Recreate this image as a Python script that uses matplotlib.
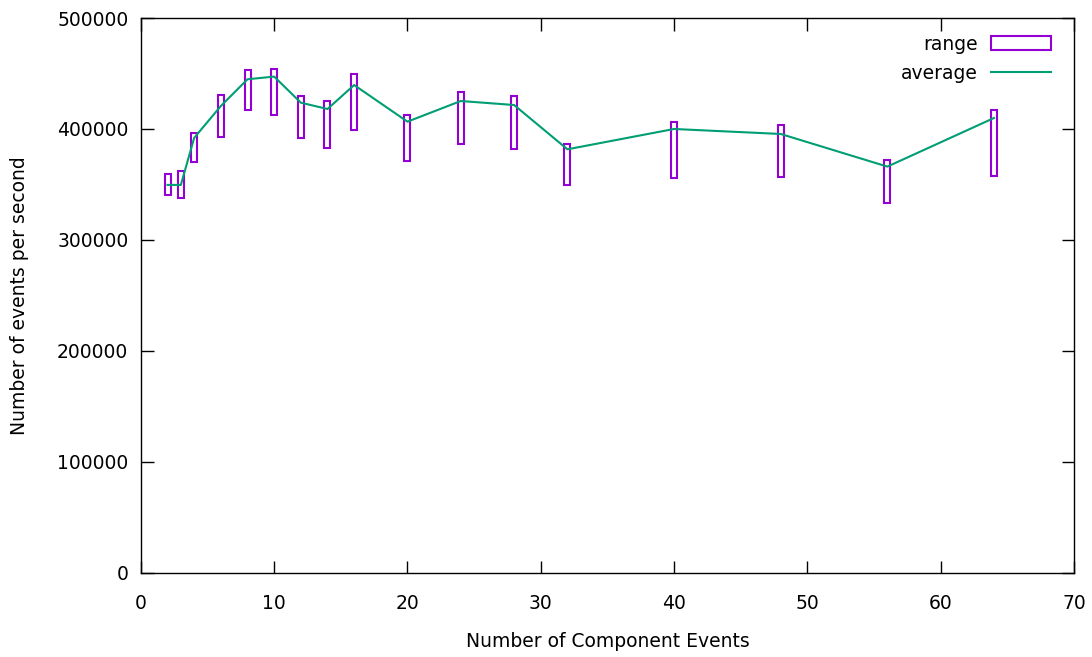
import matplotlib
matplotlib.use('Agg')
import matplotlib.pyplot as plt
from matplotlib.patches import Patch
from matplotlib.lines import Line2D

# данные
components = [2, 3, 4, 6, 8, 10, 12, 14, 16, 20, 24, 28, 32, 40, 48, 56, 64]
range_low = [340500, 338100, 370300, 393100, 417400, 412300, 391600, 382600, 398800,
             371200, 386200, 381700, 349900, 355600, 357100, 333700, 357700]
range_high = [359500, 362200, 396100, 430600, 453200, 454400, 430000, 425500, 449300,
              412300, 433100, 429700, 386800, 406600, 403300, 371800, 417400]
average = [349600, 349600, 392000, 420700, 444800, 447200, 423700, 418000, 439600,
           406600, 425200, 421600, 381700, 400000, 395500, 366100, 409900]

purple = '#9400d3'
green = '#009e73'
fs = 13.5

fig = plt.figure(figsize=(10.92, 6.57), dpi=100)
ax = fig.add_axes([0.129, 0.128, 0.8545, 0.8446])

heights = [h - l for h, l in zip(range_high, range_low)]
ax.bar(components, heights, bottom=range_low, width=0.45, fill=False,
       edgecolor=purple, linewidth=1.5, zorder=2)
ax.plot(components, average, color=green, linewidth=1.5, zorder=3)

ax.set_xlim(0, 70)
ax.set_ylim(0, 500000)
ax.set_xticks(range(0, 71, 10))
ax.set_yticks(range(0, 500001, 100000))
ax.ticklabel_format(style='plain', axis='y')
ax.tick_params(direction='in', length=9, width=1, top=True, right=True,
               labelsize=fs)
ax.tick_params(axis='x', pad=15)
ax.tick_params(axis='y', pad=9)
for s in ax.spines.values():
    s.set_linewidth(1)

ax.set_xlabel('Number of Component Events', fontsize=fs, labelpad=14)
ax.set_ylabel('Number of events per second', fontsize=fs, labelpad=20)

handles = [Patch(facecolor='none', edgecolor=purple, linewidth=1.5),
           Line2D([], [], color=green, linewidth=1.5)]
ax.legend(handles, ['range', 'average'], loc='upper right', frameon=False,
          markerfirst=False, fontsize=fs, handlelength=3.2, handleheight=0.75,
          handletextpad=0.7, borderaxespad=0.5, labelspacing=0.55,
          bbox_to_anchor=(0.993, 1.0))

fig.savefig('out.png', dpi=100)
